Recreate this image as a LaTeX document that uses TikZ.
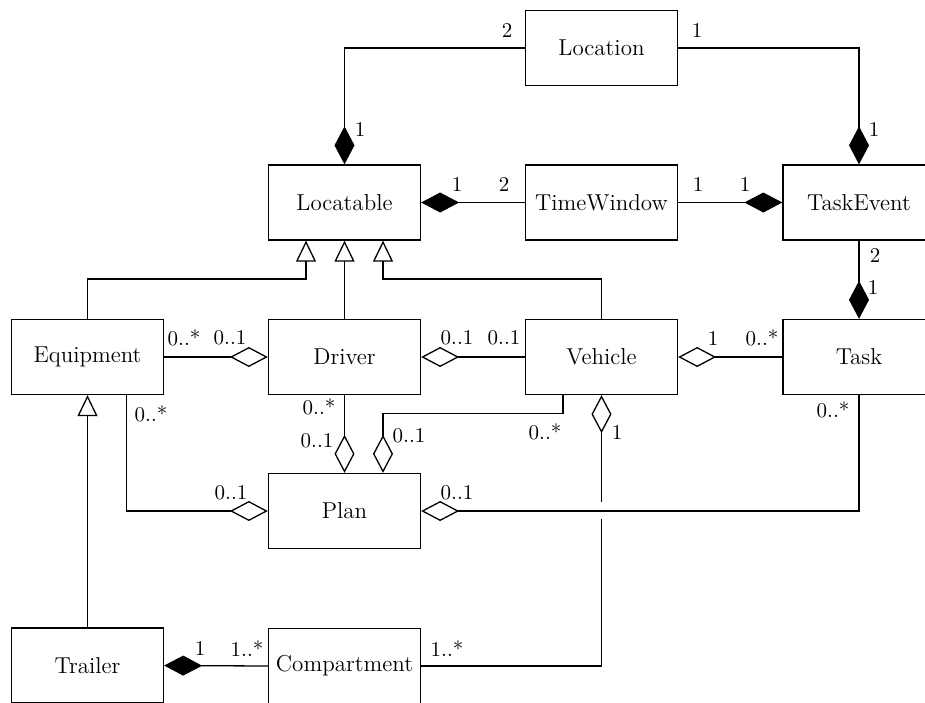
\documentclass[tikz,border=0pt]{standalone}
\usetikzlibrary{arrows.meta,calc}

\tikzset{
  cls/.style={draw, line width=0.65pt, minimum width=76pt, minimum height=37.5pt,
    inner sep=0pt, font=\fontsize{11.5}{13}\selectfont},
  lbl/.style={inner sep=0pt, font=\fontsize{10.5}{12}\selectfont},
  conn/.style={line width=0.65pt},
  compo/.style={conn, -{Diamond[length=19pt,width=10pt]}},
  aggr/.style={conn, -{Diamond[open,length=19pt,width=10pt]}},
  gener/.style={conn, -{Triangle[open,length=10.5pt,width=10pt]}},
}

\begin{document}
\begin{tikzpicture}[x=0.5pt,y=-0.5pt]
\useasboundingbox (0,0) rectangle (925,702);
\clip (0,0) rectangle (925,702);

% classes
\node[cls] (loc)  at (601.5,48)    {Location};
\node[cls] (locb) at (344.5,202.5) {Locatable};
\node[cls] (tw)   at (601.5,202.5) {TimeWindow};
\node[cls] (tev)  at (859,202.5)   {TaskEvent};
\node[cls] (eq)   at (87.5,357)    {Equipment};
\node[cls] (drv)  at (344.5,357)   {Driver};
\node[cls] (veh)  at (601.5,357)   {Vehicle};
\node[cls] (task) at (859,357)     {Task};
\node[cls] (plan) at (344.5,511)   {Plan};
\node[cls] (trl)  at (87.5,665.5)  {Trailer};
\node[cls] (comp) at (344.5,666)   {Compartment};

% attachment points on Locatable for the generalisations
\coordinate (g1) at ($(locb.south)+(-38.5,0)$);
\coordinate (g3) at ($(locb.south)+(38.5,0)$);

% compositions
\draw[compo] (loc.west) -| (locb.north);
\draw[compo] (loc.east) -| (tev.north);
\draw[compo] (tw.west) -- (locb.east);
\draw[compo] (tw.east) -- (tev.west);
\draw[compo] (tev.south) -- (task.north);
\draw[compo] (comp.west) -- (trl.east);

% generalisations
\draw[gener] (eq.north) -- ++(0,-40) -| (g1);
\draw[gener] (drv.north) -- (locb.south);
\draw[gener] (veh.north) -- ++(0,-40) -| (g3);
\draw[gener] (trl.north) -- (eq.south);

% aggregations
\draw[aggr] (eq.east) -- (drv.west);
\draw[aggr] (veh.west) -- (drv.east);
\draw[aggr] (task.west) -- (veh.east);
\draw[aggr] (drv.south) -- (plan.north);
\draw[aggr] ($(veh.south)+(-38.5,0)$) -- ++(0,18) -| ($(plan.north)+(38.5,0)$);
\draw[aggr] ($(eq.south)+(39,0)$) |- (plan.west);
\draw[aggr] (task.south) |- (plan.east);

% Vehicle -- Compartment, broken where it crosses Plan -- Task
\coordinate (vc1) at ($(veh.south)+(0,107)$);
\coordinate (vc2) at ($(veh.south)+(0,124)$);
\draw[aggr] (vc1) -- (veh.south);
\draw[conn] (comp.east) -| (vc2);

% multiplicities
\node[lbl] (m1)  at (507,31)  {2};
\node[lbl] (m2)  at (697,31)  {1};
\node[lbl] (m3)  at (360,130) {1};
\node[lbl] (m4)  at (874,130) {1};
\node[lbl] (m5)  at (457,185) {1};
\node[lbl] (m6)  at (504,185) {2};
\node[lbl] (m7)  at (698,185) {1};
\node[lbl] (m8)  at (745,185) {1};
\node[lbl] (m9)  at (875,255) {2};
\node[lbl] (m10) at (873,288) {1};
\node[lbl] (m11) at (184,338) {0..*};
\node[lbl] (m12) at (230,338) {0..1};
\node[lbl] (m13) at (457,338) {0..1};
\node[lbl] (m14) at (504,338) {0..1};
\node[lbl] (m15) at (713,338) {1};
\node[lbl] (m16) at (762,338) {0..*};
\node[lbl] (m17) at (319,407) {0..*};
\node[lbl] (m18) at (317,441) {0..1};
\node[lbl] (m19) at (409,436) {0..1};
\node[lbl] (m20) at (545,432) {0..*};
\node[lbl] (m21) at (617,432) {1};
\node[lbl] (m22) at (151,414) {0..*};
\node[lbl] (m23) at (231,493) {0..1};
\node[lbl] (m24) at (457,493) {0..1};
\node[lbl] (m25) at (833,410) {0..*};
\node[lbl] (m26) at (200,648) {1};
\node[lbl] (m27) at (247,649) {1..*};
\node[lbl] (m28) at (447,649) {1..*};
\end{tikzpicture}
\end{document}
